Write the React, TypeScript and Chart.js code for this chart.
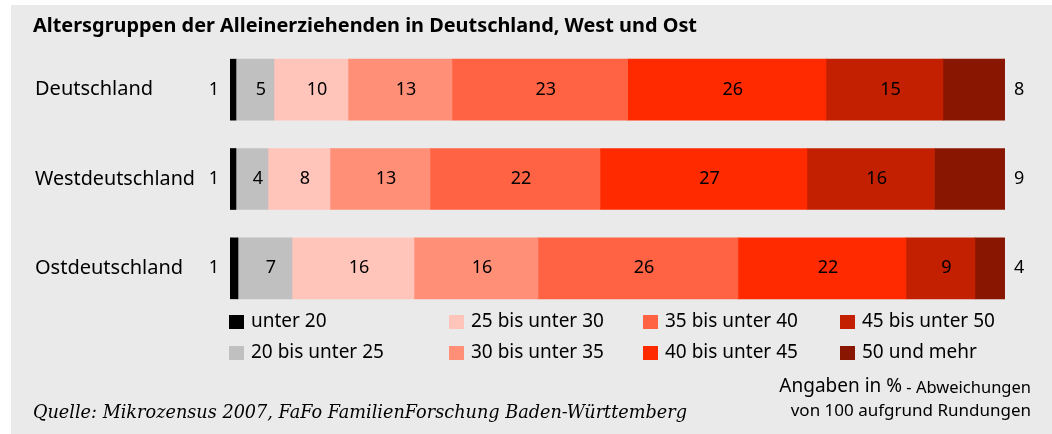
import React, { useEffect, useRef } from "react";
import { Chart, registerables } from "chart.js";

Chart.register(...registerables);

const titleText = "Altersgruppen der Alleinerziehenden in Deutschland, West und Ost";
const sourceText = "Quelle: Mikrozensus 2007, FaFo FamilienForschung Baden-Württemberg";
const noteBig = "Angaben in %";
const noteSmall = " - Abweichungen";
const noteLine2 = "von 100 aufgrund Rundungen";

const categories = ["Deutschland", "Westdeutschland", "Ostdeutschland"];
const ageGroups = [
  "unter 20",
  "20 bis unter 25",
  "25 bis unter 30",
  "30 bis unter 35",
  "35 bis unter 40",
  "40 bis unter 45",
  "45 bis unter 50",
  "50 und mehr",
];
// shares in % per region (Deutschland, West, Ost)
const unter20 = [0.77, 0.77, 1.03];
const von20bis25 = [4.9, 4.13, 6.97];
const von25bis30 = [9.55, 8.0, 15.74];
const von30bis35 = [13.42, 12.9, 16.0];
const von35bis40 = [22.66, 21.94, 25.8];
const von40bis45 = [25.6, 26.7, 21.68];
const von45bis50 = [15.1, 16.45, 8.9];
const ab50 = [8.0, 9.1, 3.87];
const seriesValues = [unter20, von20bis25, von25bis30, von30bis35, von35bis40, von40bis45, von45bis50, ab50];
const colors = ["#000000", "#c0c0c0", "#ffc5bb", "#ff8f77", "#ff6344", "#ff2a00", "#c22000", "#881600"];

const FONT = '"Noto Sans", sans-serif';

const decorPlugin = {
  id: "decor",
  beforeDraw(chart: any) {
    const ctx = chart.ctx;
    ctx.save();
    ctx.fillStyle = "#ffffff";
    ctx.fillRect(0, 0, chart.width, chart.height);
    ctx.fillStyle = "#eaeaea";
    ctx.fillRect(11, 5, chart.width - 11, chart.height - 5);
    ctx.restore();
  },
  afterDraw(chart: any) {
    const ctx = chart.ctx;
    ctx.save();
    ctx.fillStyle = "#000";
    ctx.textBaseline = "middle";
    // title
    ctx.font = `bold 20px ${FONT}`;
    ctx.textAlign = "left";
    ctx.fillText(titleText, 33, 26, 664);

    // category labels
    const meta0 = chart.getDatasetMeta(0);
    ctx.font = `20px ${FONT}`;
    chart.data.labels.forEach((lab: string, i: number) => {
      const el = meta0.data[i];
      ctx.textAlign = "left";
      ctx.fillText(lab, 35, el.y, i === 1 ? 160 : 1000);
    });

    // value labels
    ctx.font = `18px ${FONT}`;
    const n = chart.data.datasets.length;
    chart.data.datasets.forEach((ds: any, di: number) => {
      const meta = chart.getDatasetMeta(di);
      meta.data.forEach((el: any, i: number) => {
        const txt = String(Math.round(ds.data[i]));
        if (di === 0) {
          ctx.textAlign = "right";
          ctx.fillText(txt, el.base - 11, el.y);
        } else if (di === n - 1) {
          ctx.textAlign = "left";
          ctx.fillText(txt, el.x + 9, el.y);
        } else {
          ctx.textAlign = "center";
          ctx.fillText(txt, (el.x + el.base) / 2 + 6, el.y);
        }
      });
    });

    // legend: 4 columns, 2 rows, column-major
    const colX = [229, 449, 643, 840];
    const rowY = [322, 353];
    ctx.font = `19px ${FONT}`;
    ctx.textAlign = "left";
    chart.data.datasets.forEach((ds: any, di: number) => {
      const col = Math.floor(di / 2);
      const row = di % 2;
      const x = colX[col];
      const y = rowY[row];
      ctx.fillStyle = ds.backgroundColor;
      ctx.fillRect(x, y - 7, 15, 14);
      ctx.fillStyle = "#000";
      ctx.fillText(ds.label, x + 22, y);
    });

    // source
    ctx.font = `italic 18px "DejaVu Serif", serif`;
    ctx.fillText(sourceText, 33, 413, 654);

    // note
    ctx.textAlign = "right";
    ctx.font = `16.5px ${FONT}`;
    const smallW = ctx.measureText(noteSmall).width;
    ctx.fillText(noteSmall, 1031, 388);
    ctx.font = `19px ${FONT}`;
    ctx.fillText(noteBig, 1031 - smallW, 387);
    ctx.font = `17px ${FONT}`;
    ctx.fillText(noteLine2, 1031, 411);
    ctx.restore();
  },
};

export default function App() {
  const ref = useRef<HTMLCanvasElement | null>(null);
  useEffect(() => {
    document.body.style.margin = "0";
    if (!ref.current) return;
    const chart = new Chart(ref.current, {
      type: "bar",
      data: {
        labels: categories,
        datasets: seriesValues.map((vals, i) => ({
          label: ageGroups[i],
          data: vals,
          backgroundColor: colors[i],
          borderWidth: 0,
          barThickness: 61,
        })),
      },
      options: {
        indexAxis: "y",
        responsive: false,
        animation: false,
        devicePixelRatio: 1,
        layout: { padding: { left: 230, right: 47, top: 45, bottom: 121 } },
        scales: {
          x: { stacked: true, min: 0, max: 100, display: false },
          y: { stacked: true, display: false },
        },
        plugins: {
          legend: { display: false },
          tooltip: { enabled: false },
          title: { display: false },
        },
      },
      plugins: [decorPlugin],
    } as any);
    return () => chart.destroy();
  }, []);
  return (
    <div style={{ width: 1052, height: 434 }}>
      <canvas ref={ref} width={1052} height={434} style={{ display: "block" }} />
    </div>
  );
}
